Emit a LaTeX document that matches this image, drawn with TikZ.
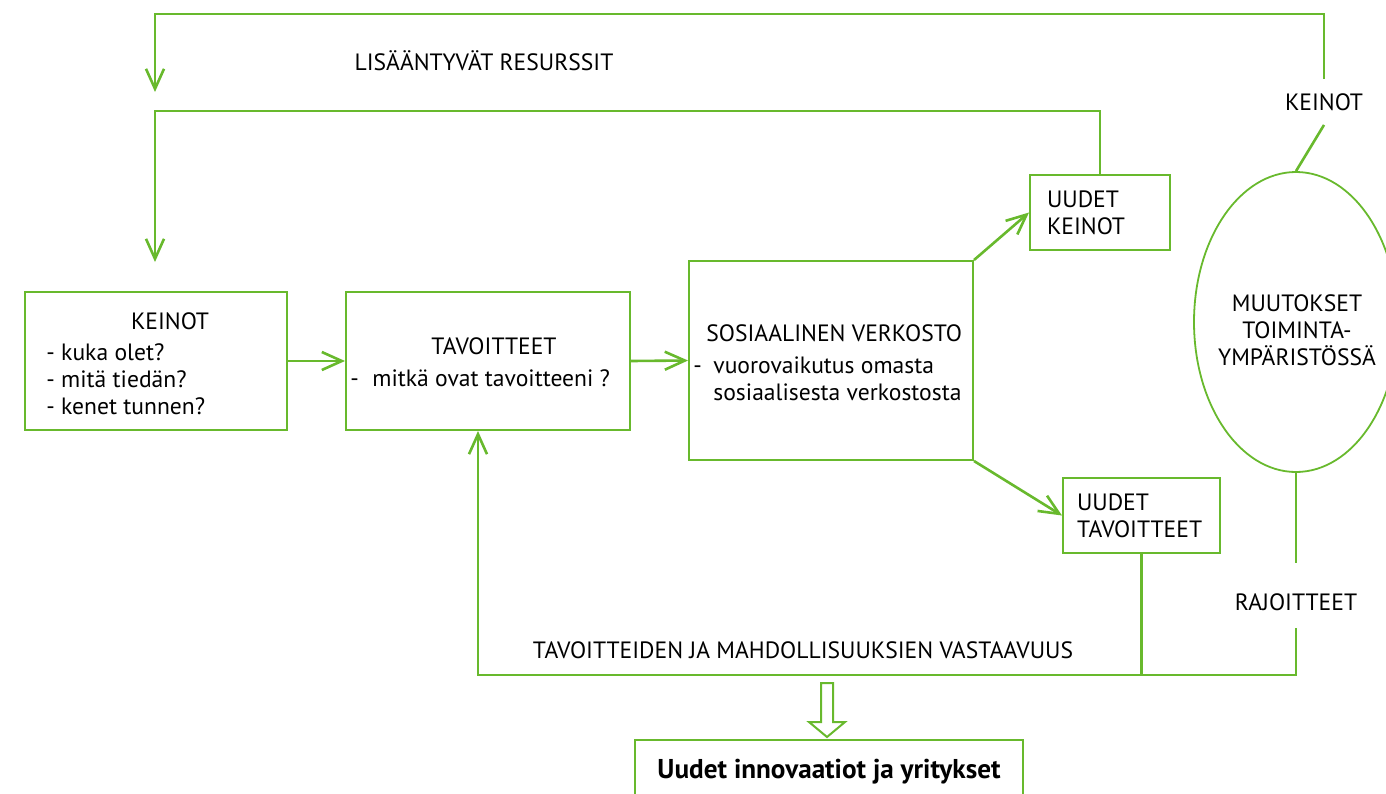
\documentclass[tikz,border=0pt]{standalone}
\usepackage{fontspec}
\setmainfont{PT Sans}
\usetikzlibrary{arrows.meta,shapes.geometric}
\definecolor{kgreen}{RGB}{104, 185, 45}
\tikzstyle{box}=[rectangle,draw=kgreen,line width=1pt,inner sep=0pt]
\tikzstyle{oval}=[ellipse,draw=kgreen,line width=0.9pt,inner sep=0pt,
  minimum width=102pt,minimum height=150pt]
\tikzstyle{txt}=[inner sep=0pt,align=left,font=\fontsize{11.8}{13.5}\selectfont]
\tikzstyle{lbl}=[inner xsep=0pt,inner ysep=7pt,font=\fontsize{11.8}{13.5}\selectfont]
\tikzstyle{gline}=[draw=kgreen,line width=1.3pt]
\tikzstyle{garrow}=[gline,-{Straight Barb[length=10pt,width=9pt]}]
\tikzstyle{none}=[inner sep=0pt]

\begin{document}
\begin{tikzpicture}[x=0.5pt,y=-0.5pt]
            \clip (0,0) rectangle (1386,793);
            \node [style=box,minimum width=131pt,minimum height=69pt] (0) at (156,361) {};
            \node [style=box,minimum width=142pt,minimum height=69pt] (1) at (488,361) {};
            \node [style=box,minimum width=142pt,minimum height=99.5pt] (2) at (831,360.5) {};
            \node [style=box,txt,text width=53pt,inner xsep=8.5pt,minimum height=37.5pt] (3) at (1100,212.5) {UUDET\\KEINOT};
            \node [style=box,txt,text width=64.5pt,inner xsep=7pt,minimum height=37.5pt] (4) at (1141.5,515.5) {UUDET\\TAVOITTEET};
            \node [style=oval] (5) at (1296,322) {};
            \node [style=box,minimum width=194pt,minimum height=32pt,
              font=\fontsize{13.6}{15}\selectfont\bfseries] (6) at (829,772) {Uudet innovaatiot ja yritykset};
            \node [style=txt] (7) at (484,61) {LISÄÄNTYVÄT RESURSSIT};
            \node [style=lbl] (8) at (1324,102) {KEINOT};
            \node [style=txt] (9) at (1296,602) {RAJOITTEET};
            \node [style=txt] (10) at (803,650) {TAVOITTEIDEN JA MAHDOLLISUUKSIEN VASTAAVUUS};
            \node [style=txt] (11) at (170,321) {KEINOT};
            \node [style=txt,anchor=west] (12) at (46,379) {- kuka olet?\\- mitä tiedän?\\- kenet tunnen?};
            \node [style=txt] (13) at (494,346) {TAVOITTEET};
            \node [style=txt,anchor=west] (14) at (350,378) {\makebox[11pt][l]{-}mitkä ovat tavoitteeni ?};
            \node [style=txt,anchor=west] (15) at (706,333) {SOSIAALINEN VERKOSTO};
            \node [style=txt,anchor=west] (16) at (693,379) {\makebox[10pt][l]{-}vuorovaikutus omasta\\\hspace*{10pt}sosiaalisesta verkostosta};
            \node [style=txt,align=center] (17) at (1297,330) {MUUTOKSET\\TOIMINTA-\\YMPÄRISTÖSSÄ};
            \node [style=none] (20) at (1325,14) {};
            \node [style=none] (21) at (155,14) {};
            \node [style=none] (22) at (155,92) {};
            \node [style=none] (23) at (155,111) {};
            \node [style=none] (24) at (155,262) {};
            \node [style=none] (25) at (1296,563) {};
            \node [style=none] (26) at (1296,628) {};
            \node [style=none] (27) at (1296,675) {};
            \node [style=none] (28) at (478,675) {};
            \draw [style=garrow] (8.north) -- (8.north |- 20.center) -- (21.center) -- (22.center);
            \draw [style=garrow] (3.north) -- (3.north |- 23.center) -- (23.center) -- (24.center);
            \draw [style=gline] (8.south) -- (5.north);
            \draw [style=garrow] (0.east) -- (1.west);
            \draw [style=garrow] (1.east) -- (2.west);
            \draw [style=garrow] (2.north east) -- (3.west);
            \draw [style=garrow] (2.south east) -- (4.west);
            \draw [style=gline] (5.south) -- (25.center);
            \draw [style=garrow] (26.center) -- (27.center) -- (28.center) -- (28.center |- 1.south);
            \draw [style=gline] (4.south) -- (4.south |- 27.center);
            \draw [draw=kgreen,line width=1pt,fill=white] (821,683) -- (821,722) -- (809,722)
              -- (827,737) -- (845,722) -- (833,722) -- (833,683) -- cycle;
    \end{tikzpicture}
\end{document}
